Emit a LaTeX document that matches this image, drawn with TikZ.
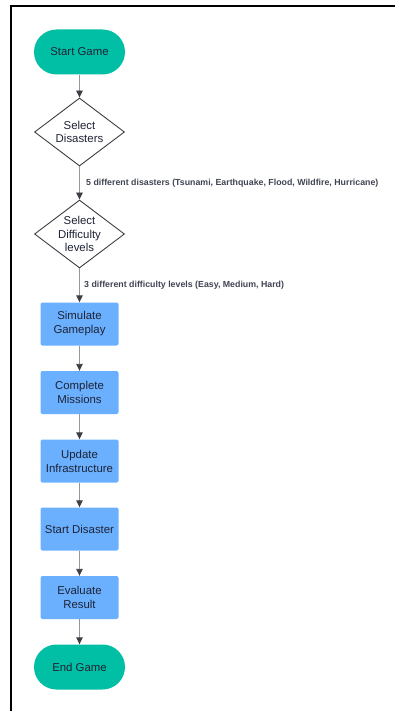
\documentclass[tikz,border=0pt]{standalone}
\usepackage{fontspec}
\setmainfont{Liberation Sans}
\usetikzlibrary{shapes.geometric,arrows.meta}
\definecolor{teal}{RGB}{0,191,165}
\definecolor{skyblue}{RGB}{106,176,255}
\definecolor{ink}{RGB}{30,34,52}
\definecolor{wire}{RGB}{150,150,155}
\definecolor{tip}{RGB}{60,62,70}
\tikzset{
  terminal/.style={draw=none, fill=teal, rounded corners=22.5pt, minimum width=91pt, minimum height=45pt, font=\fontsize{11.4}{14}\selectfont, text=ink},
  choice/.style={diamond, draw=tip, line width=0.9pt, fill=white, minimum width=90pt, minimum height=68pt, inner sep=0pt, aspect=1.32, font=\fontsize{11.4}{13.5}\selectfont, text=ink, align=center},
  action/.style={draw=none, fill=skyblue, rounded corners=2pt, minimum width=78pt, minimum height=43pt, font=\fontsize{11.4}{14}\selectfont, text=ink, align=center},
  flow/.style={draw=wire, line width=0.9pt, -{Triangle[length=7pt,width=6.5pt,color=tip]}},
  note/.style={font=\fontsize{8.8}{10}\selectfont\bfseries, text=ink!85, anchor=west, inner sep=0pt}
}
\begin{document}
\begin{tikzpicture}[x=1pt,y=-1pt]
  \useasboundingbox (0,0) rectangle (395,711);
  % frame edges
  \draw[line width=2pt, black] (10.5,711) -- (10.5,6.5) -- (395,6.5);

  \node[terminal] (start) at (79.5,52) {Start Game};
  \node[choice] (dis) at (79.5,132) {Select\\Disasters};
  \node[choice] (diff) at (79.5,234) {Select\\Difficulty\\levels};
  \node[action] (sim) at (79.5,324) {Simulate\\Gameplay};
  \node[action] (mis) at (79.5,392.5) {Complete\\Missions};
  \node[action] (inf) at (79.5,461) {Update\\Infrastructure};
  \node[action] (dst) at (79.5,529) {Start Disaster};
  \node[action] (eva) at (79.5,597.5) {Evaluate\\Result};
  \node[terminal] (end) at (79.5,667) {End Game};

  \draw[flow] (start) -- (dis);
  \draw[flow] (dis) -- (diff);
  \draw[flow] (diff) -- (sim);
  \draw[flow] (sim) -- (mis);
  \draw[flow] (mis) -- (inf);
  \draw[flow] (inf) -- (dst);
  \draw[flow] (dst) -- (eva);
  \draw[flow] (eva) -- (end);

  \node[note] (l1) at (86,183) {5 different disasters (Tsunami, Earthquake, Flood, Wildfire, Hurricane)};
  \node[note] (l2) at (84,285) {3 different difficulty levels (Easy, Medium, Hard)};
\end{tikzpicture}
\end{document}
